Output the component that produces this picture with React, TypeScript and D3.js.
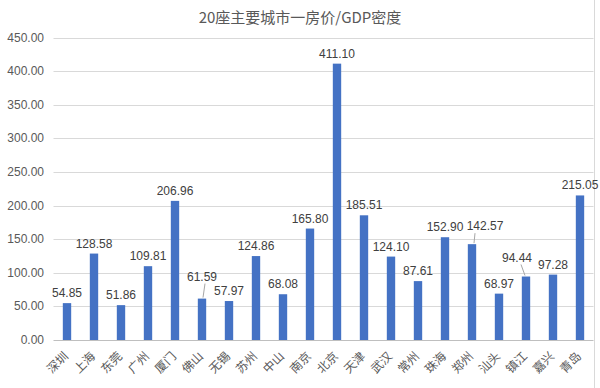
import React from "react";
import * as d3 from "d3";

const categories = ["深圳","上海","东莞","广州","厦门","佛山","无锡","苏州","中山","南京","北京","天津","武汉","常州","珠海","郑州","汕头","镇江","嘉兴","青岛"];
const values = [54.85,128.58,51.86,109.81,206.96,61.59,57.97,124.86,68.08,165.80,411.10,185.51,124.10,87.61,152.90,142.57,68.97,94.44,97.28,215.05];
const yTicks = [0,50,100,150,200,250,300,350,400,450];
const title = "20座主要城市一房价/GDP密度";
// label offsets (dx, dy) for labels moved with leader lines
const labelOffsets: Record<string, [number, number]> = { "佛山": [0, -12], "郑州": [13, -8], "镇江": [-9, -9] };

const W = 600, H = 388;
const m = { left: 53.5, right: 6.5, top: 37.5, bottom: 48 };

export default function App() {
  const x = d3.scaleBand<string>().domain(categories).range([m.left, W - m.right]).paddingInner(0.69).paddingOuter(0.345);
  const y = d3.scaleLinear().domain([0, 450]).range([H - m.bottom, m.top]);
  const font = "'Liberation Sans', Arial, sans-serif";
  const cjk = "'Noto Sans CJK SC', sans-serif";
  return (
    <svg width={W} height={H} style={{ position: "absolute", left: 0, top: 0, background: "#fff" }}>
      <rect x={0} y={0} width={W} height={H} fill="#fff" />
      <line x1={594.5} x2={594.5} y1={0} y2={H} stroke="#d9d9d9" />
      <text x={300} y={23} textAnchor="middle" fontFamily={cjk} fontSize={15} fill="#595959">{title}</text>
      {yTicks.map(t => (
        <g key={t}>
          <line x1={m.left} x2={W - m.right} y1={Math.round(y(t)) + 0.5} y2={Math.round(y(t)) + 0.5} stroke={t === 0 ? "#bfbfbf" : "#d9d9d9"} />
          <text x={44} y={y(t) + 4} textAnchor="end" fontFamily={font} fontSize={12} fill="#595959">{t.toFixed(2)}</text>
        </g>
      ))}
      {categories.map((c, i) => {
        const bx = x(c)!;
        const cx = bx + x.bandwidth() / 2;
        const top = y(values[i]);
        const off = labelOffsets[c];
        const lx = cx + (off ? off[0] : 0);
        const ly = top - 6 + (off ? off[1] : 0);
        return (
          <g key={c}>
            <rect x={bx} y={top} width={x.bandwidth()} height={y(0) - top} fill="#4472C4" />
            {off && (
              <line x1={cx + (off[0] > 0 ? 2 : off[0] < 0 ? -1 : 1)} y1={top - 1} x2={lx + (off[0] > 0 ? -10 : off[0] < 0 ? 4 : 3)} y2={ly + 3} stroke="#a6a6a6" strokeWidth={1} />
            )}
            <text x={lx} y={ly} textAnchor="middle" fontFamily={font} fontSize={12} fill="#404040">{values[i].toFixed(2)}</text>
            <text transform={`translate(${cx + 2},${H - m.bottom + 17}) rotate(-45)`} textAnchor="end" fontFamily={cjk} fontSize={12} fill="#595959">{c}</text>
          </g>
        );
      })}
    </svg>
  );
}
